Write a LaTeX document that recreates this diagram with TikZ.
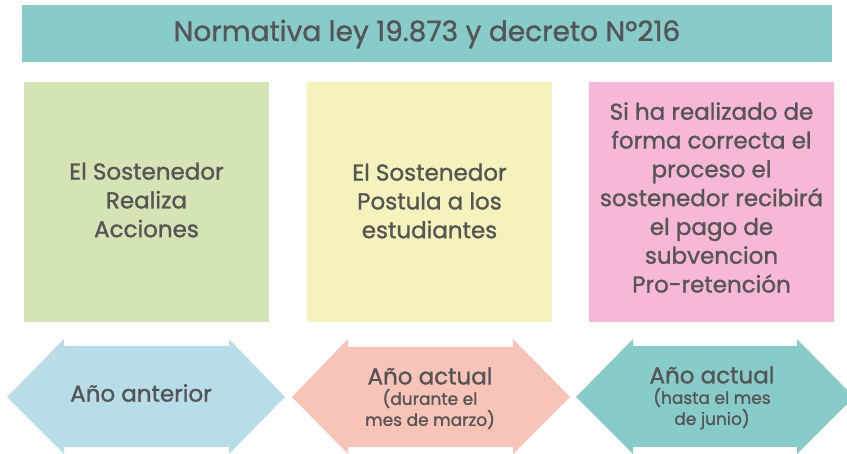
\documentclass[tikz,border=0pt]{standalone}
\usepackage{fontspec}
\setmainfont{Poppins}[FakeBold=1.2]
\usetikzlibrary{positioning}
\definecolor{txtgrey}{HTML}{555555}
\definecolor{tealbar}{HTML}{88CCC9}
\definecolor{boxgreen}{HTML}{D5E4B4}
\definecolor{boxyellow}{HTML}{F5F3BB}
\definecolor{boxpink}{HTML}{F6B8D6}
\definecolor{arrblue}{HTML}{B7DEE8}
\definecolor{arrsalmon}{HTML}{F8C4B8}
\begin{document}
\begin{tikzpicture}[x=1pt,y=-1pt,
  every node/.style={text=txtgrey,align=center,inner sep=0pt},
  boxtext/.style={font=\fontsize{23}{28.8}\selectfont},
  arrtext/.style={font=\fontsize{23}{24}\selectfont},
  subtext/.style={font=\fontsize{17}{21}\selectfont}]
\clip (0,0) rectangle (847,454);
\fill[white] (0,0) rectangle (847,454);
% title bar
\fill[tealbar] (22,5) rectangle (832,62);
\node (title) at (427,34) {\fontsize{28}{30}\selectfont Normativa ley 19.873 y decreto Nº216};
% the three boxes
\fill[boxgreen] (24,82) rectangle (269,322);
\fill[boxyellow] (307,82) rectangle (552,322);
\fill[boxpink] (589,82) rectangle (834,322);
\node[boxtext] (acciones) at (146.5,200) {El Sostenedor\\Realiza\\Acciones};
\node[boxtext] (postula) at (429.5,201) {El Sostenedor\\Postula a los\\estudiantes};
\node[boxtext] (pago) at (711.5,197.5) {Si ha realizado de\\forma correcta el\\proceso el\\sostenedor recibirá\\el pago de\\subvencion\\Pro-retención};
% double arrows
\fill[arrblue] (7,397) -- (64,339) -- (64,346) -- (229,346) -- (229,339) -- (285,397)
  -- (229,454) -- (229,447) -- (64,447) -- (64,454) -- cycle;
\fill[arrsalmon] (292,397) -- (348,339) -- (348,347) -- (513,347) -- (513,339) -- (570,397)
  -- (513,454) -- (513,447) -- (348,447) -- (348,454) -- cycle;
\fill[tealbar] (576,397) -- (633,339) -- (633,346) -- (797,346) -- (797,339) -- (854,397)
  -- (797,454) -- (797,447) -- (633,447) -- (633,454) -- cycle;
\node[arrtext] (anterior) at (141,393) {Año anterior};
\node[arrtext] (actual1) at (430,376) {Año actual};
\node[subtext,below=4pt of actual1] (marzo) {(durante el\\mes de marzo)};
\node[arrtext] (actual2) at (712,375) {Año actual};
\node[subtext,below=4pt of actual2] (junio) {(hasta el mes\\de junio)};
\end{tikzpicture}
\end{document}
